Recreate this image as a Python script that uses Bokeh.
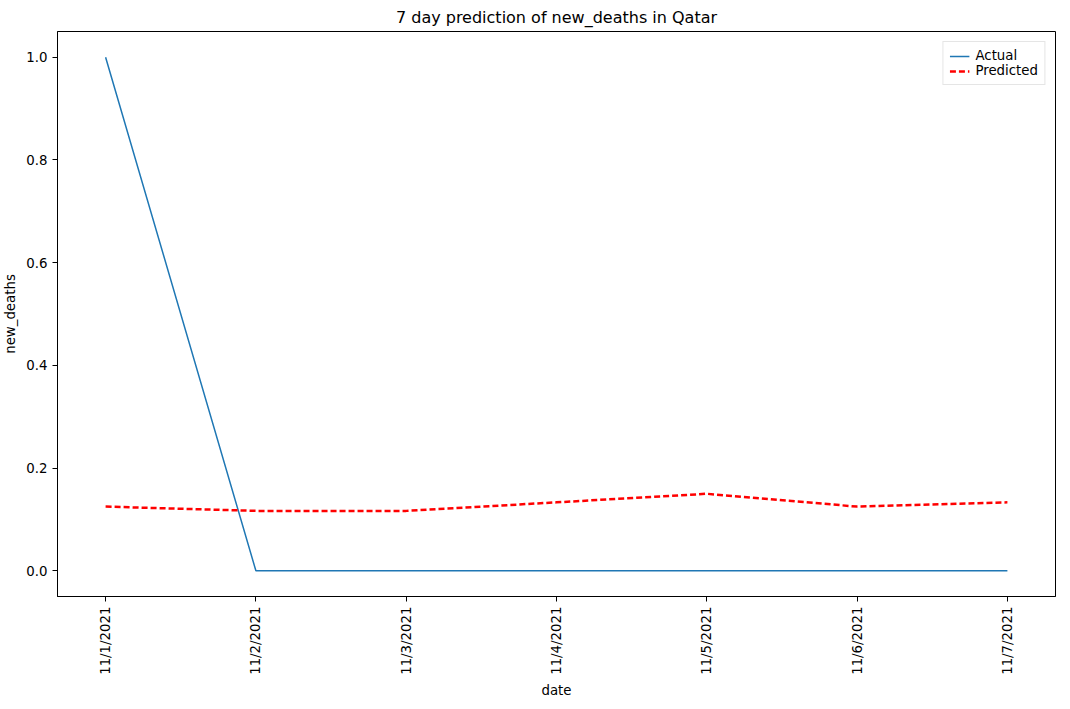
import math
from bokeh.plotting import figure
from bokeh.models import Range1d, Legend, LegendItem
from bokeh.embed import file_html
from bokeh.resources import INLINE

dates = ["11/1/2021", "11/2/2021", "11/3/2021", "11/4/2021", "11/5/2021", "11/6/2021", "11/7/2021"]
actual = [1.0, 0.0, 0.0, 0.0, 0.0, 0.0, 0.0]
predicted = [0.125, 0.1167, 0.1167, 0.1333, 0.15, 0.125, 0.1333]
y_ticks = [0.0, 0.2, 0.4, 0.6, 0.8, 1.0]

x = list(range(len(dates)))

p = figure(width=1058, height=700, output_backend="svg", toolbar_location=None,
           title="7 day prediction of new_deaths in Qatar",
           x_range=Range1d(-0.32, 6.32), y_range=Range1d(-0.05, 1.05),
           min_border_left=50, min_border_right=3, min_border_top=4, min_border_bottom=8)
p.title.align = "center"
p.title.text_font = "DejaVu Sans"
p.title.text_font_size = "12pt"
p.title.text_font_style = "normal"
p.title.text_color = "black"
p.grid.visible = False
p.outline_line_color = "black"

l1 = p.line(x, actual, line_color="#1f77b4", line_width=1.5)
l2 = p.line(x, predicted, line_color="red", line_width=2.5, line_dash="6 3")

p.xaxis.ticker = x
p.xaxis.major_label_overrides = {i: d for i, d in enumerate(dates)}
p.xaxis.major_label_orientation = math.pi / 2
p.yaxis.ticker = y_ticks
p.yaxis.major_label_overrides = {v: f"{v:.1f}" for v in y_ticks}
p.xaxis.axis_label = "date"
p.yaxis.axis_label = "new_deaths"
for ax in (p.xaxis[0], p.yaxis[0]):
    ax.axis_label_text_font_style = "normal"
    ax.axis_label_text_font = "DejaVu Sans"
    ax.axis_label_text_font_size = "10pt"
    ax.axis_label_text_color = "black"
    ax.major_label_text_font = "DejaVu Sans"
    ax.major_label_text_font_size = "10pt"
    ax.major_label_text_color = "black"
    ax.axis_line_color = "black"
    ax.major_tick_line_color = "black"
    ax.minor_tick_line_color = None
    ax.major_tick_in = 0
    ax.major_tick_out = 5

legend = Legend(items=[LegendItem(label="Actual", renderers=[l1]),
                       LegendItem(label="Predicted", renderers=[l2])],
                location="top_right", label_text_font="DejaVu Sans", label_text_font_size="10pt",
                label_text_color="black",
                border_line_color="#cccccc", spacing=0, padding=6, label_height=14,
                glyph_height=14, label_standoff=6)
p.add_layout(legend)

open("out.html", "w").write(file_html(p, INLINE))
